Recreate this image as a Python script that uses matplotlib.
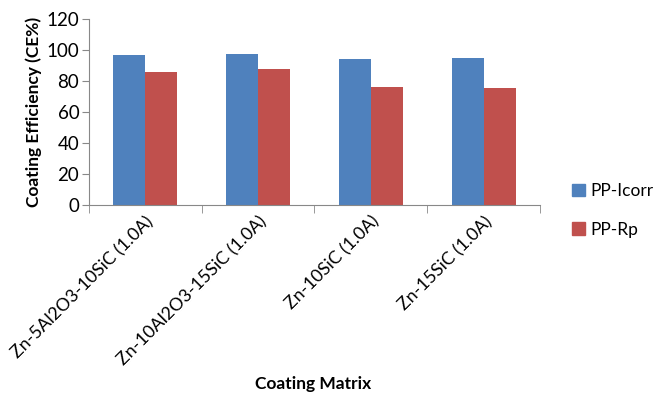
import numpy as np
import matplotlib.pyplot as plt
from matplotlib.patches import Patch

plt.rcParams['font.family'] = ['Lato', 'DejaVu Sans']

matrices = ['Zn-5Al2O3-10SiC (1.0A)', 'Zn-10Al2O3-15SiC (1.0A)',
            'Zn-10SiC (1.0A)', 'Zn-15SiC (1.0A)']
pp_icorr = [96.8, 97.6, 94.4, 95.0]
pp_rp = [85.8, 88.0, 75.9, 75.3]

blue = '#4F81BD'
red = '#C0504D'

fig = plt.figure(figsize=(6.62, 3.97), dpi=100)
ax = fig.add_axes([0.1344, 0.4836, 0.6813, 0.4684])

x = np.arange(len(matrices))
w = 0.284
ax.bar(x - w / 2, pp_icorr, w, color=blue)
ax.bar(x + w / 2, pp_rp, w, color=red)

ax.set_xlim(-0.5, len(matrices) - 0.5)
ax.set_ylim(0, 120)
ax.set_yticks(range(0, 121, 20))
ax.tick_params(axis='y', labelsize=13.5, length=5, color='#888888', pad=2)

# category labels at the centers, tick marks on the boundaries
ax.set_xticks(x)
ax.set_xticklabels(matrices, rotation=45, ha='right', va='top',
                   rotation_mode='anchor', fontsize=12.8)
ax.tick_params(axis='x', which='major', length=0, pad=6)
ax.set_xticks(np.arange(-0.5, len(matrices)), minor=True)
ax.tick_params(axis='x', which='minor', length=6, color='#888888')

for s in ['top', 'right']:
    ax.spines[s].set_visible(False)
for s in ['left', 'bottom']:
    ax.spines[s].set_color('#888888')

ax.set_ylabel('Coating Efficiency (CE%)', fontsize=12.5, fontweight='bold', labelpad=3)
fig.text(0.473, 0.02, 'Coating Matrix', ha='center', fontsize=12.5, fontweight='bold')

handles = [Patch(color=blue, label='PP-Icorr'), Patch(color=red, label='PP-Rp')]
fig.legend(handles=handles, loc='center left', bbox_to_anchor=(0.84, 0.47),
           frameon=False, fontsize=12.5, handlelength=0.75, handleheight=0.75,
           handletextpad=0.3, labelspacing=1.3)

fig.savefig('out.png', dpi=100)
